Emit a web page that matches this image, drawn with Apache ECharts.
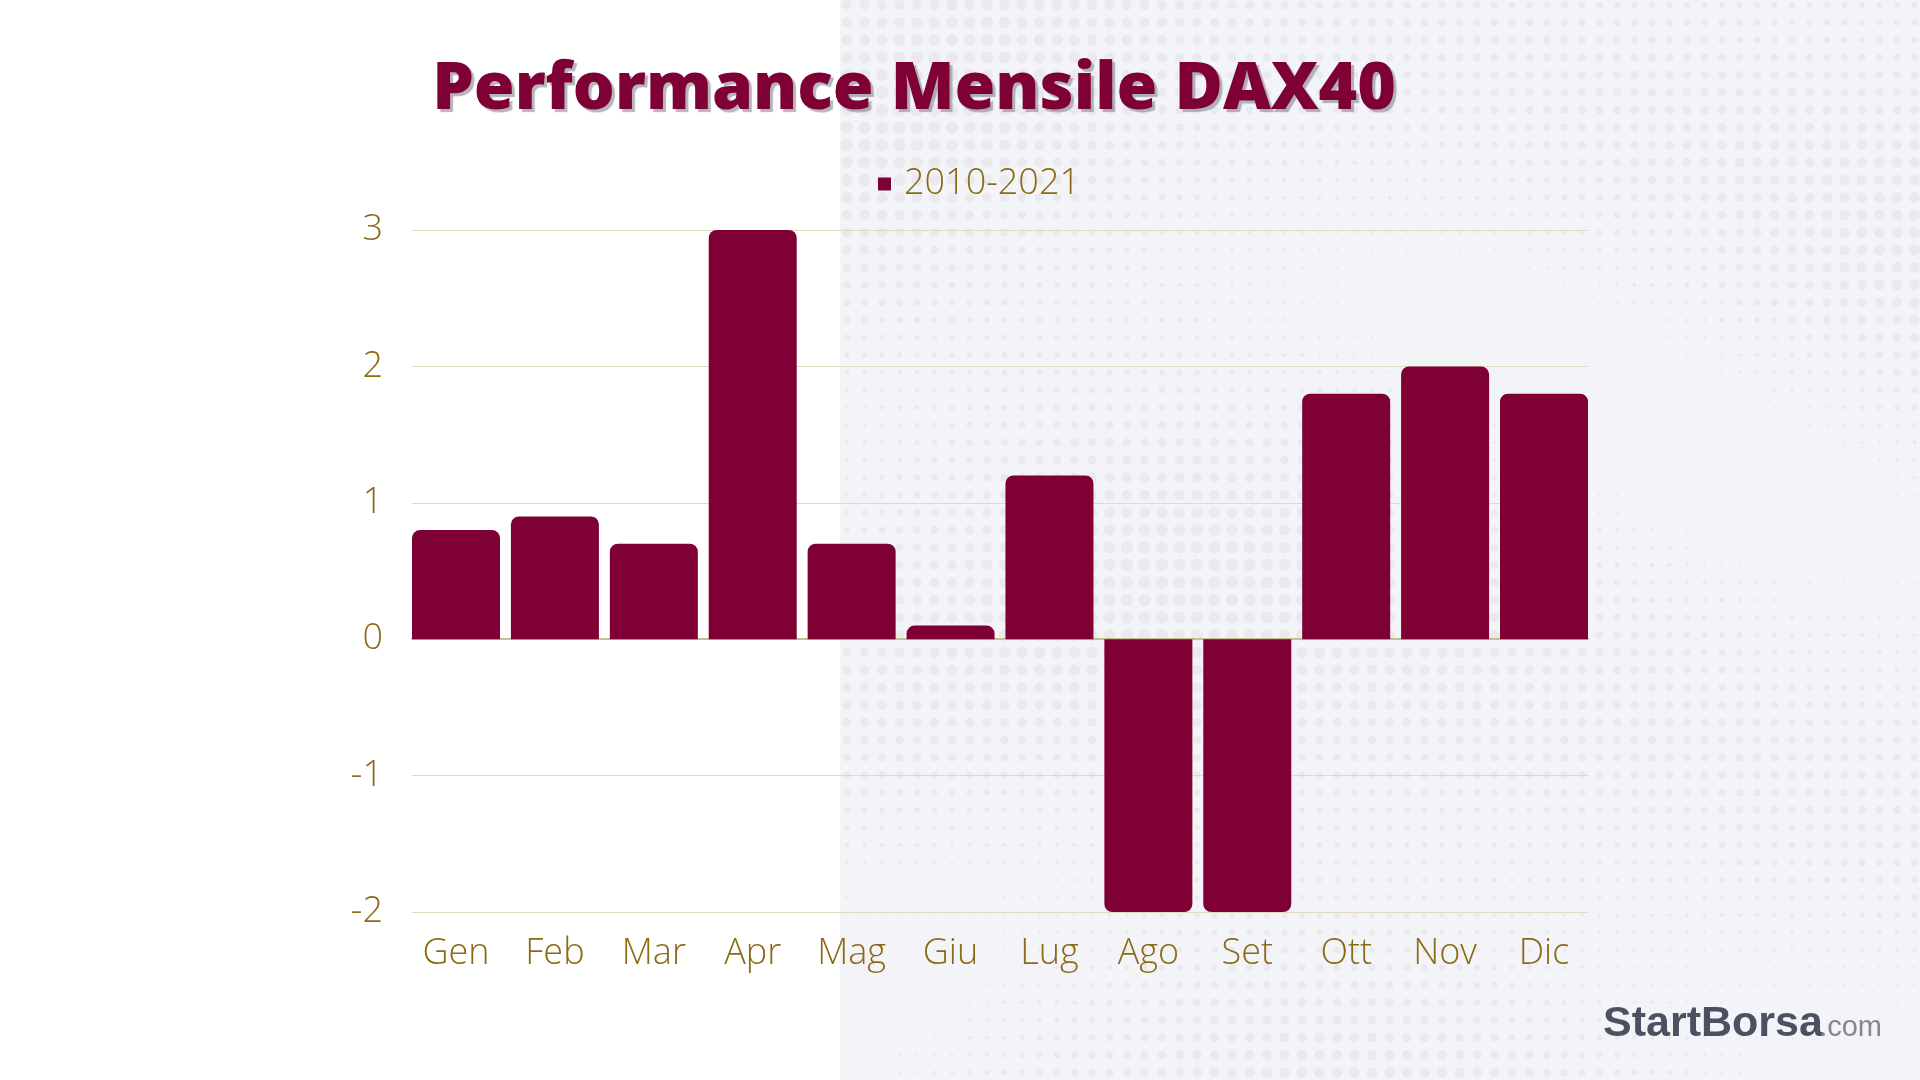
<!DOCTYPE html>
<html>
<head>
<meta charset="utf-8">
<style>
html,body{margin:0;padding:0;background:#ffffff;}
#chart{width:1920px;height:1080px;}
</style>
<script src="https://cdn.jsdelivr.net/npm/echarts@6/dist/echarts.min.js"></script>
</head>
<body>
<div id="chart"></div>
<script>
const months = ['Gen','Feb','Mar','Apr','Mag','Giu','Lug','Ago','Set','Ott','Nov','Dic'];
const perf = [0.8, 0.9, 0.7, 3.0, 0.7, 0.1, 1.2, -2.0, -2.0, 1.8, 2.0, 1.8];
const seriesName = '2010-2021';
const yTicks = [-2, -1, 0, 1, 2, 3];
const titleText = 'Performance Mensile DAX40';

// decorative halftone dot background
function makeDots(w, h) {
  const c = document.createElement('canvas');
  c.width = w; c.height = h;
  const g = c.getContext('2d');
  g.fillStyle = '#f3f4f8';
  g.fillRect(0, 0, w, h);
  g.fillStyle = '#e9e9ee';
  const step = 17.5;
  for (let yy = 5; yy < h + 10; yy += step) {
    for (let xx = 7; xx < w + 10; xx += step) {
      const v = Math.sin(yy / 90 + Math.sin(xx / 260) * 1.4) * 0.6 + Math.cos(xx / 180 - yy / 330) * 0.4;
      let r = 3.3 + 3.0 * v;
      if (r < 0.4) r = 0.4;
      if (r > 6.4) r = 6.4;
      g.beginPath();
      g.arc(xx, yy, r, 0, Math.PI * 2);
      g.fill();
    }
  }
  return c;
}
const dots = makeDots(1080, 1080);

const gridL = 412, gridW = 1176, gridT = 230, gridH = 682;
const barW = 88;
const gap = (gridW - 12 * barW) / 11;

const chart = echarts.init(document.getElementById('chart'), null, {renderer: 'canvas'});
const labelColor = '#8B6A14';
const font = '"Open Sans", sans-serif';

chart.setOption({
  backgroundColor: '#ffffff',
  animation: false,
  legend: {
    data: [{name: seriesName}],
    left: 878, top: 166, padding: 0,
    icon: 'rect', itemWidth: 13, itemHeight: 13, itemGap: 10,
    textStyle: {color: labelColor, fontSize: 36, fontWeight: 300, fontFamily: font, padding: [0, 0, 0, 8]}
  },
  grid: [
    {left: gridL - gap / 2, width: gridW + gap, top: gridT, height: gridH},
    {left: gridL, width: gridW, top: gridT, height: gridH}
  ],
  xAxis: [
    {type: 'category', gridIndex: 0, data: months,
      axisLine: {show: false}, axisTick: {show: false},
      axisLabel: {color: labelColor, fontSize: 36, fontWeight: 300, fontFamily: font, margin: 24}},
    {type: 'category', gridIndex: 1, data: months,
      axisLine: {show: true, onZero: true, lineStyle: {color: '#cbbd92', width: 2}},
      axisTick: {show: false}, axisLabel: {show: false}}
  ],
  yAxis: [
    {type: 'value', gridIndex: 0, min: yTicks[0], max: yTicks[yTicks.length - 1], interval: 1,
      show: false, splitLine: {show: false}},
    {type: 'value', gridIndex: 1, min: yTicks[0], max: yTicks[yTicks.length - 1], interval: 1,
      axisLine: {show: false}, axisTick: {show: false},
      axisLabel: {color: labelColor, fontSize: 36, fontWeight: 300, fontFamily: font, margin: 29, padding: [5, 0, 0, 0]},
      splitLine: {show: true, lineStyle: {color: '#e2dabf', width: 1}}}
  ],
  series: [{
    name: seriesName,
    type: 'bar',
    xAxisIndex: 0, yAxisIndex: 0,
    barWidth: barW,
    itemStyle: {color: '#7f0035'},
    data: perf.map(v => ({value: v, itemStyle: {borderRadius: v >= 0 ? [8, 8, 0, 0] : [0, 0, 8, 8]}}))
  }],
  color: ['#7f0035'],
  graphic: [
    {type: 'image', left: 840, top: 0, z: -100, silent: true,
      style: {image: dots, width: 1080, height: 1080}},
    {type: 'text', x: 914, y: 90, z: 100, silent: true,
      style: {text: titleText, fill: '#7f0035', font: '800 66px "Open Sans", sans-serif',
        align: 'center', verticalAlign: 'middle',
        textShadowColor: 'rgba(120,120,130,0.55)', textShadowOffsetX: 3, textShadowOffsetY: 3, textShadowBlur: 1}},
    {type: 'text', x: 1603, y: 1024, z: 100, silent: true,
      style: {text: 'StartBorsa', fill: '#4a5262', font: 'bold 43px "Liberation Sans", Arial, sans-serif',
        align: 'left', verticalAlign: 'middle'}},
    {type: 'text', x: 1882, y: 1028, z: 100, silent: true,
      style: {text: '.com', fill: '#84878e', font: '29px "Liberation Sans", Arial, sans-serif',
        align: 'right', verticalAlign: 'middle'}}
  ]
});
</script>
</body>
</html>
